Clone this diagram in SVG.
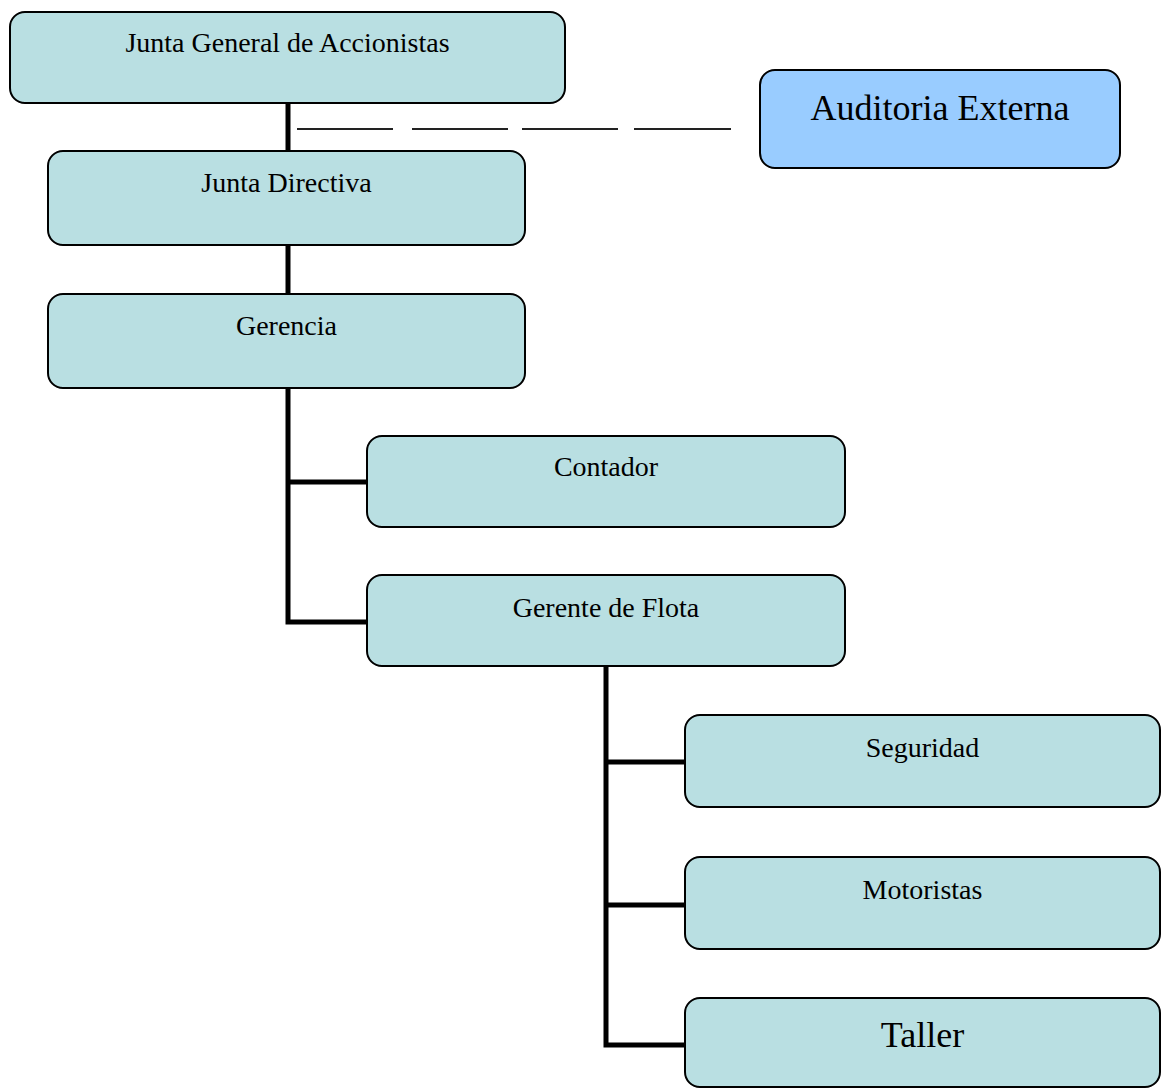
<svg xmlns="http://www.w3.org/2000/svg" width="1163" height="1089" viewBox="0 0 1163 1089">
  <style>
    .box { fill: #b9dfe2; stroke: #000; stroke-width: 2; }
    .ext { fill: #99ccff; stroke: #000; stroke-width: 2; }
    .lbl { font-family: "Liberation Serif", "Times New Roman", serif; font-size: 28px; fill: #000; text-anchor: middle; }
    .big { font-size: 36px; }
    .line { fill: none; stroke: #000; stroke-width: 5; }
    .dash { fill: none; stroke: #222; stroke-width: 2; }
  </style>
  <rect width="1163" height="1089" fill="#fff"/>

  <!-- reporting lines -->
  <g id="connectors">
    <path class="line" d="M288 103 V151"/>
    <path class="line" d="M288 245 V294"/>
    <path class="line" d="M288 388 V622 H367"/>
    <path class="line" d="M288 482 H367"/>
    <path class="line" d="M606 666 V1045 H685"/>
    <path class="line" d="M606 762 H685"/>
    <path class="line" d="M606 905 H685"/>
    <!-- external audit link -->
    <path class="dash" d="M297 129 H393 M412 129 H508 M522 129 H618 M634 129 H731"/>
  </g>

  <g id="junta-general">
    <rect class="box" x="10" y="12" width="555" height="91" rx="15"/>
    <text class="lbl" x="287.5" y="52">Junta General de Accionistas</text>
  </g>
  <g id="auditoria-externa">
    <rect class="ext" x="760" y="70" width="360" height="98" rx="15"/>
    <text class="lbl big" x="940" y="120">Auditoria Externa</text>
  </g>
  <g id="junta-directiva">
    <rect class="box" x="48" y="151" width="477" height="94" rx="15"/>
    <text class="lbl" x="286.5" y="192">Junta Directiva</text>
  </g>
  <g id="gerencia">
    <rect class="box" x="48" y="294" width="477" height="94" rx="15"/>
    <text class="lbl" x="286.5" y="335">Gerencia</text>
  </g>
  <g id="contador">
    <rect class="box" x="367" y="436" width="478" height="91" rx="15"/>
    <text class="lbl" x="606" y="476">Contador</text>
  </g>
  <g id="gerente-flota">
    <rect class="box" x="367" y="575" width="478" height="91" rx="15"/>
    <text class="lbl" x="606" y="617">Gerente de Flota</text>
  </g>
  <g id="seguridad">
    <rect class="box" x="685" y="715" width="475" height="92" rx="15"/>
    <text class="lbl" x="922.5" y="757">Seguridad</text>
  </g>
  <g id="motoristas">
    <rect class="box" x="685" y="857" width="475" height="92" rx="15"/>
    <text class="lbl" x="922.5" y="899">Motoristas</text>
  </g>
  <g id="taller">
    <rect class="box" x="685" y="998" width="475" height="89" rx="15"/>
    <text class="lbl big" x="922.5" y="1047">Taller</text>
  </g>
</svg>
